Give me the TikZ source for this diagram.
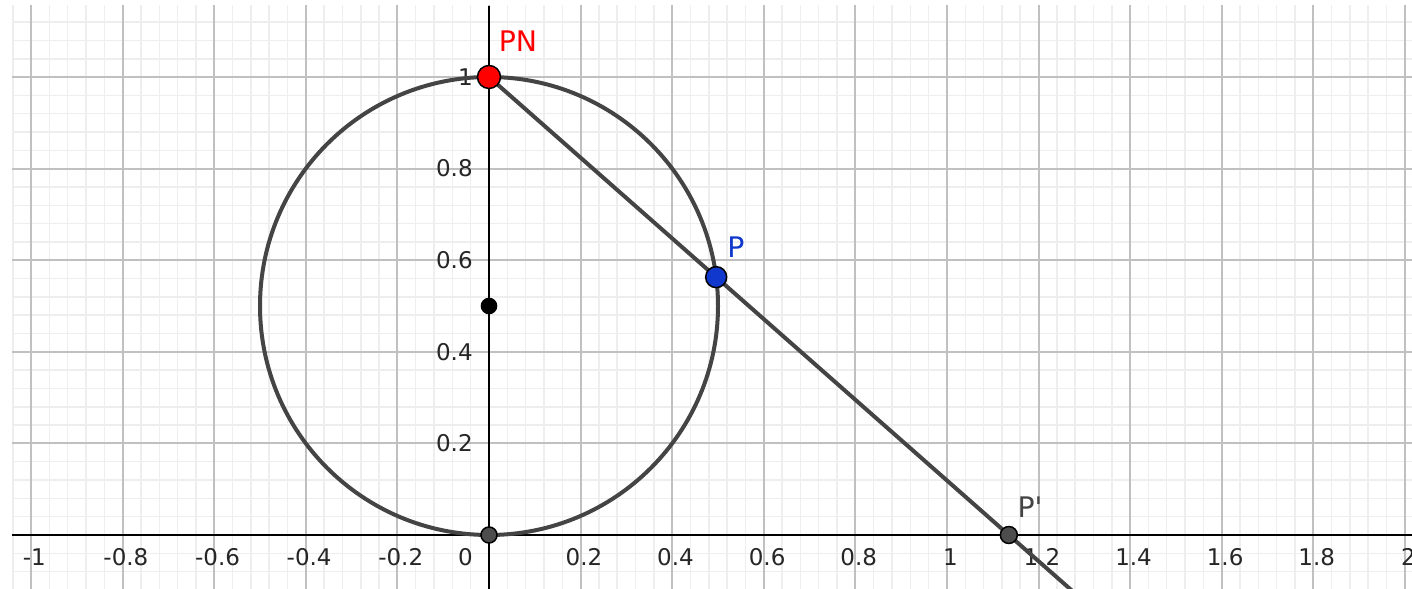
\documentclass[tikz,border=0pt]{standalone}
\usepackage{fontspec}
\setmainfont{DejaVu Sans}[Ligatures=TeXOff]
\definecolor{minorg}{RGB}{238,238,238}
\definecolor{majorg}{RGB}{192,192,192}
\definecolor{curvec}{RGB}{68,68,68}
\definecolor{ptgray}{RGB}{77,77,77}
\definecolor{ptblue}{RGB}{16,56,204}
\begin{document}
\begin{tikzpicture}[x=274.8pt,y=274.8pt,
  minorgrid/.style={draw=minorg,line width=0.9pt},
  majorgrid/.style={draw=majorg,line width=1.2pt},
  axisline/.style={draw=black,line width=1.2pt},
  curveline/.style={draw=curvec,line width=2.4pt},
  ticklab/.style={inner sep=0pt,text=black!85,font=\fontsize{13.8}{16}\selectfont},
  ptlab/.style={inner sep=0pt,font=\fontsize{17}{20}\selectfont},
  gpoint/.style={circle,draw=black,line width=0.9pt,inner sep=0pt}]
\useasboundingbox (-1.06769,-0.11572) rectangle (2.01528,1.16812);
\fill[white] (-1.06769,-0.11572) rectangle (2.01528,1.16812);
\begin{scope}
\clip (-1.04148,-0.2) rectangle (2.1,1.15502);
\draw[minorgrid] (-1.2,-0.24) grid[step=0.04] (2.2,1.24);
\draw[majorgrid] (-1.2,-0.2) grid[step=0.2] (2.2,1.2);
\end{scope}
\coordinate (xl) at (-1.04148,0);
\coordinate (xr) at (2.1,0);
\coordinate (yb) at (0,-0.2);
\coordinate (yt) at (0,1.15502);
\draw[axisline] (xl) -- (xr);
\draw[axisline] (yb) -- (yt);
% x labels
\foreach \v/\t [count=\i] in {-1/-1,-0.8/-0.8,-0.6/-0.6,-0.4/-0.4,-0.2/-0.2,0.2/0.2,0.4/0.4,0.6/0.6,0.8/0.8,1/1,1.2/1.2,1.4/1.4,1.6/1.6,1.8/1.8,2/2}
  \node[ticklab,xshift=2pt,yshift=-13.2pt] (xlab\i) at (\v,0) {\t};
\node[ticklab,anchor=east,xshift=-9.6pt,yshift=-13.2pt] (zlab) at (0,0) {0};
% y labels
\foreach \v [count=\i] in {0.2,0.4,0.6,0.8,1}
  \node[ticklab,anchor=east,xshift=-9.6pt] (ylab\i) at (0,\v) {\v};
% geometry
\coordinate (cO) at (0,0);
\coordinate (cC) at (0,0.5);
\coordinate (cPN) at (0,1);
\coordinate (cP) at (0.49602,0.56297);
\coordinate (cPp) at (1.135,0);
\coordinate (cEnd) at (1.362,-0.2);
\draw[curveline] (cC) circle[radius=0.5];
\draw[curveline] (cPN) -- (cP) -- (cPp) -- (cEnd);
\node[gpoint,fill=ptgray,minimum size=9.6pt] (O) at (cO) {};
\node[circle,fill=black,inner sep=0pt,minimum size=10pt] (C) at (cC) {};
\node[gpoint,fill=red,minimum size=13.8pt] (PN) at (cPN) {};
\node[gpoint,fill=ptblue,minimum size=12.6pt] (P) at (cP) {};
\node[gpoint,fill=ptgray,minimum size=10.2pt] (Pp) at (cPp) {};
\node[ptlab,text=red] (PNlab) at (0.0633,1.0775) {PN};
\node[ptlab,text=ptblue] (Plab) at (0.5393,0.6277) {P};
\node[ptlab,text=curvec] (Pplab) at (1.1812,0.0611) {P'};
\end{tikzpicture}
\end{document}
